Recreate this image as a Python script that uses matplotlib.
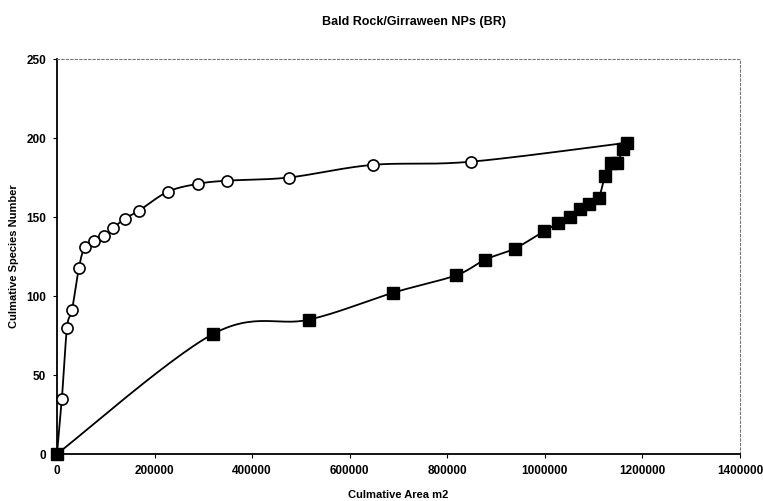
import numpy as np
import matplotlib.pyplot as plt

plt.rcParams['font.family'] = ['Liberation Sans', 'DejaVu Sans']

# circles: species accumulation, sites in order
area_circ = [0, 10000, 20500, 30700, 45000, 57000, 76000, 96000, 115000, 139000,
             168000, 227000, 289000, 348000, 475000, 647000, 848000, 1168000]
spp_circ = [0, 35, 80, 91, 118, 131, 135, 138, 143, 149,
            154, 166, 171, 173, 175, 183, 185, 197]

# squares: species accumulation, reverse order
area_sq = [0, 320000, 516000, 688000, 817000, 877000, 938000, 998000, 1027000,
           1051000, 1072000, 1090000, 1110000, 1123000, 1135000, 1148000,
           1160000, 1168000]
spp_sq = [0, 76, 85, 102, 113, 123, 130, 141, 146,
          150, 155, 158, 162, 176, 184, 184, 193, 197]


def smooth(x, y, n=30):
    # Excel-style smoothed line: bezier with catmull-rom control points
    p = np.column_stack([x, y]).astype(float)
    pts = [p[0]]
    for i in range(len(p) - 1):
        p0 = p[i - 1] if i > 0 else p[i]
        p1, p2 = p[i], p[i + 1]
        p3 = p[i + 2] if i + 2 < len(p) else p[i + 1]
        c1 = p1 + (p2 - p0) / 6
        c2 = p2 - (p3 - p1) / 6
        t = np.linspace(0, 1, n)[1:, None]
        seg = ((1 - t) ** 3) * p1 + 3 * ((1 - t) ** 2) * t * c1 \
            + 3 * (1 - t) * t ** 2 * c2 + t ** 3 * p2
        pts.extend(seg)
    pts = np.array(pts)
    return pts[:, 0], pts[:, 1]


fig = plt.figure(figsize=(7.63, 5.01), dpi=100)
ax = fig.add_axes([0.0747, 0.0938, 0.8952, 0.7884])

sx, sy = smooth(area_circ, spp_circ)
ax.plot(sx, sy, color='black', lw=1.3, zorder=2)
ax.plot(area_circ, spp_circ, 'o', ms=8, mfc='white', mec='black', mew=1.2,
        zorder=3, clip_on=False)

sx, sy = smooth(area_sq, spp_sq)
ax.plot(sx, sy, color='black', lw=1.3, zorder=4)
ax.plot(area_sq, spp_sq, 's', ms=8, mfc='black', mec='black', zorder=5,
        clip_on=False)

ax.set_xlim(0, 1400000)
ax.set_ylim(0, 250)
ax.set_xticks(range(0, 1400001, 200000))
ax.set_yticks(range(0, 251, 50))
ax.ticklabel_format(style='plain', useOffset=False)
ax.tick_params(labelsize=8.5, length=3, width=0.8, direction='out', pad=5)
for lab in ax.get_xticklabels() + ax.get_yticklabels():
    lab.set_fontweight('bold')

for s in ['top', 'right']:
    ax.spines[s].set_linestyle((0, (2, 2)))
    ax.spines[s].set_color('#777777')
    ax.spines[s].set_linewidth(0.8)
for s in ['left', 'bottom']:
    ax.spines[s].set_linewidth(1.3)

ax.set_xlabel('Culmative Area m2', fontsize=8, fontweight='bold')
ax.set_ylabel('Culmative Species Number', fontsize=8, fontweight='bold')
ax.xaxis.set_label_coords(0.5, -0.092)
ax.yaxis.set_label_coords(-0.056, 0.5)

fig.text(414 / 763, 1 - 22 / 501, 'Bald Rock/Girraween NPs (BR)',
         ha='center', va='center', fontsize=9, fontweight='bold')

fig.savefig('out.png', dpi=100)
